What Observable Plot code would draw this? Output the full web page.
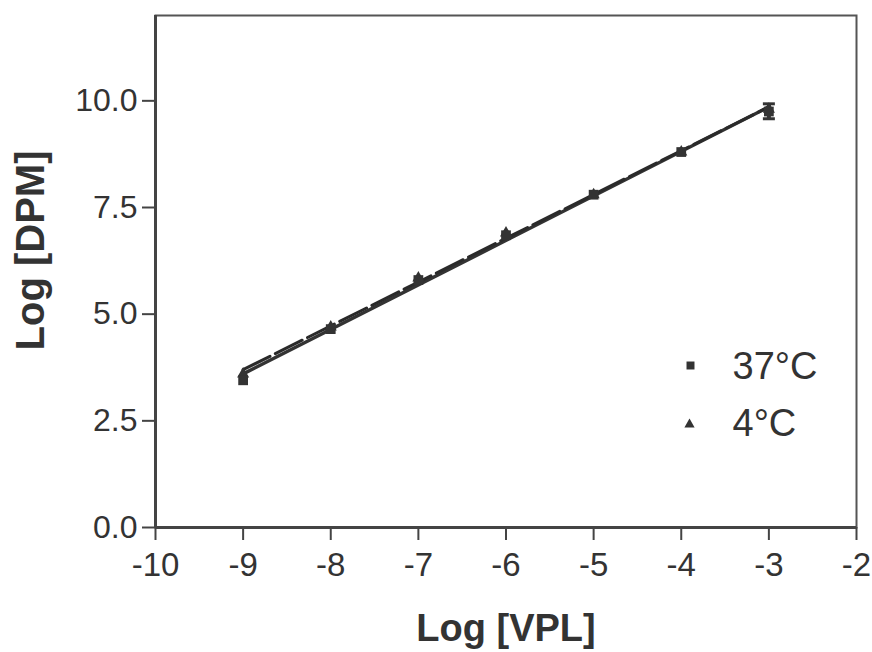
<!DOCTYPE html>
<html>
<head>
<meta charset="utf-8">
<script src="https://cdn.jsdelivr.net/npm/d3@7"></script>
<script src="https://cdn.jsdelivr.net/npm/@observablehq/plot@0.6"></script>
<style>
  html, body { margin: 0; padding: 0; background: #fff; }
  #chart svg { display: block; }
</style>
</head>
<body>
<div id="chart"></div>
<script>
// ---- data ----
const logVPL = [-9, -8, -7, -6, -5, -4, -3];
const dpm37 = [3.45, 4.65, 5.8, 6.85, 7.8, 8.8, 9.75];
const dpm4 = [3.6, 4.7, 5.85, 6.9, 7.8, 8.8, 9.8];
const errX = [-3];
const errLow = [9.58];
const errHigh = [9.93];
const xTicks = [-10, -9, -8, -7, -6, -5, -4, -3, -2];
const yTicks = [0, 2.5, 5, 7.5, 10];
const seriesNames = ["37°C", "4°C"];
const xLabel = "Log [VPL]";
const yLabel = "Log [DPM]";

const rows37 = logVPL.map((x, i) => ({x, y: dpm37[i]}));
const rows4 = logVPL.map((x, i) => ({x, y: dpm4[i]}));
const errRows = errX.map((x, i) => ({x, lo: errLow[i], hi: errHigh[i]}));

const ink = "#333";
const capSymbol = {draw(ctx) { ctx.moveTo(-6, 0); ctx.lineTo(6, 0); }};

const chart = Plot.plot({
  width: 872,
  height: 652,
  marginLeft: 155,
  marginRight: 16,
  marginTop: 15,
  marginBottom: 125,
  style: {fontFamily: "'Liberation Sans', Arial, sans-serif", color: ink, background: "#fff"},
  x: {domain: [-10, -2], ticks: xTicks, tickFormat: d => String(d), label: null},
  y: {domain: [0, 12], ticks: yTicks, tickFormat: d3.format(".1f"), label: null},
  marks: [
    Plot.frame({stroke: "#555", strokeWidth: 2}),
    Plot.axisX({ticks: xTicks, tickFormat: d => String(d), tickSize: 13, tickPadding: 12,
      fontSize: 33, stroke: "#444", strokeWidth: 2, fill: ink}),
    Plot.axisY({ticks: yTicks, tickFormat: d3.format(".1f"), tickSize: 13, tickPadding: 5,
      fontSize: 32, stroke: "#444", strokeWidth: 2, fill: ink}),
    Plot.ruleX([-10], {stroke: "#444", strokeWidth: 3}),
    Plot.ruleY([0], {stroke: "#444", strokeWidth: 3}),
    // regression lines
    Plot.linearRegressionY(rows37, {x: "x", y: "y", ci: 0, stroke: ink, strokeWidth: 3.5}),
    Plot.linearRegressionY(rows4, {x: "x", y: "y", ci: 0, stroke: "#2a2a2a", strokeWidth: 3,
      strokeDasharray: "30,6"}),
    // error bars
    Plot.ruleX(errRows, {x: "x", y1: "lo", y2: "hi", stroke: ink, strokeWidth: 4}),
    Plot.dot(errRows, {x: "x", y: "lo", symbol: capSymbol, stroke: ink, strokeWidth: 3, r: 4}),
    Plot.dot(errRows, {x: "x", y: "hi", symbol: capSymbol, stroke: ink, strokeWidth: 3, r: 4}),
    // points
    Plot.dot(rows4, {x: "x", y: "y", symbol: "triangle", r: 4.5, fill: ink, stroke: "none"}),
    Plot.dot(rows37, {x: "x", y: "y", symbol: "square", r: 5.5, fill: ink, stroke: "none"}),
    // legend
    Plot.dot([seriesNames[0]], {frameAnchor: "top-left", dx: 535, dy: 350, symbol: "square", r: 4.5, fill: ink}),
    Plot.dot([seriesNames[1]], {frameAnchor: "top-left", dx: 534, dy: 409, symbol: "triangle", r: 3.8, fill: ink}),
    Plot.text([seriesNames[0]], {text: d => d, frameAnchor: "top-left", dx: 577, dy: 351,
      textAnchor: "start", lineAnchor: "middle", fontSize: 38, fill: ink}),
    Plot.text([seriesNames[1]], {text: d => d, frameAnchor: "top-left", dx: 577, dy: 408,
      textAnchor: "start", lineAnchor: "middle", fontSize: 38, fill: ink}),
    // axis titles
    Plot.text([xLabel], {text: d => d, frameAnchor: "bottom", dy: 101, fontSize: 38,
      textAnchor: "middle", lineAnchor: "middle", fontWeight: "bold", fill: ink}),
    Plot.text([yLabel], {text: d => d, frameAnchor: "left", dx: -124, dy: -21, rotate: -90,
      textAnchor: "middle", lineAnchor: "middle", fontSize: 40, fontWeight: "bold", fill: ink})
  ]
});
document.getElementById("chart").appendChild(chart);
</script>
</body>
</html>
